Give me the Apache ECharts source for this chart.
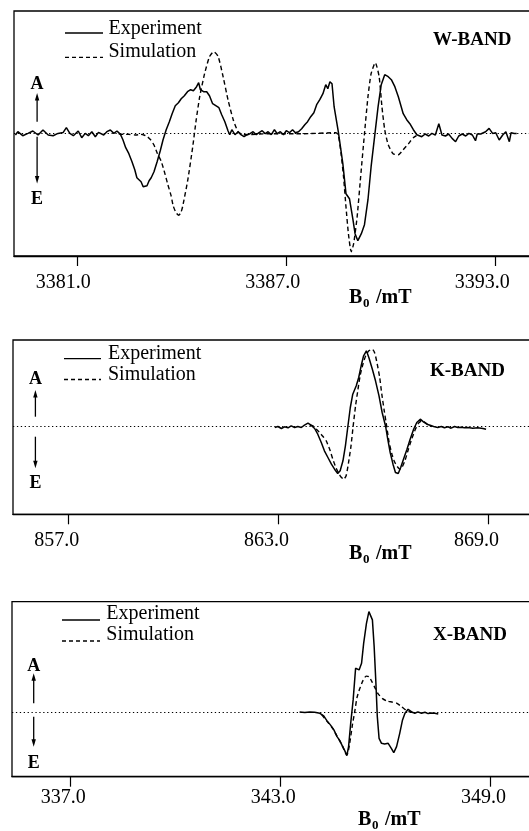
<!DOCTYPE html>
<html><head><meta charset="utf-8">
<script src="https://cdn.jsdelivr.net/npm/echarts@6/dist/echarts.min.js"></script>
<style>html,body{margin:0;padding:0;background:#fff}#c{width:529px;height:831px}</style>
</head><body><div id="c"></div>
<script>
// ---------- W-BAND (B0 in mT, amplitude in arbitrary units) ----------
const wTicks = [3381, 3387, 3393];
const wExpB = [3379.24,3379.31,3379.45,3379.60,3379.74,3379.89,3380.03,3380.18,3380.32,3380.46,3380.61,3380.70,3380.80,3380.90,3381.04,3381.14,3381.24,3381.33,3381.43,3381.53,3381.62,3381.77,3381.86,3381.96,3382.06,3382.15,3382.25,
3382.32,3382.40,3382.49,3382.58,3382.66,3382.72,3382.78,3382.84,3382.90,3382.95,3383.01,3383.07,3383.13,3383.21,3383.30,3383.39,3383.47,3383.56,3383.65,3383.73,3383.82,3383.91,3383.99,3384.08,3384.17,3384.26,3384.34,3384.43,3384.49,3384.54,3384.63,3384.72,3384.80,3384.89,3384.98,3385.07,3385.15,3385.24,3385.33,3385.38,3385.44,3385.53,3385.62,3385.70,3385.79,3385.88,3385.96,3386.05,3386.14,3386.22,3386.31,3386.40,3386.48,3386.57,3386.66,3386.74,3386.83,3386.92,3387.00,3387.09,3387.18,3387.26,3387.35,3387.44,3387.53,3387.61,3387.70,3387.79,3387.87,3387.96,3388.05,3388.13,3388.19,3388.25,3388.31,
3388.37,3388.49,3388.62,3388.71,3388.81,3388.91,3388.97,3389.05,3389.15,3389.24,3389.34,3389.43,3389.53,3389.63,3389.72,3389.82,3389.92,3390.01,3390.11,3390.21,3390.35,3390.45,3390.54,3390.64,3390.74,
3390.79,3390.88,3390.98,3391.08,3391.17,3391.27,3391.37,3391.46,3391.56,3391.65,3391.75,3391.85,3391.94,3392.04,3392.14,3392.23,3392.33,3392.42,3392.47,3392.57,3392.71,3392.81,3392.91,3393.00,3393.10,3393.20,3393.29,3393.39,3393.44,3393.53,3393.60];
const wExpA = [-1.3,2,-2,0.3,2.7,-1.3,3.7,-1.3,-2,0.3,1.3,6,0.3,-2,2.7,-4,0.3,-2,2,-3,1.3,-1.3,2,3.7,0.3,2.7,-0.7,
-6,-14,-20,-28,-36,-44,-46,-48,-53,-55,-52,-47,-44,-38,-28,-17,-6,4,12,20,28,31,35,38,42,44,43,47,51,44,42,42,38,30,28,26,19,12,3,-1,4,-1,2,-1,-3,-1,0,2,-1,1,3,0,2,-1,4,0,2,-1,3,1,4,1,2,5,9,12,17,21,29,34,40,49,45,52,50,
27,2,-30,-60,-65,-86,-100,-107,-100,-91,-66,-33,-3,27,49,59,57,54,47,37,20,14,10,4,-1,
0.3,-3,-0.3,-2.3,0.3,-1.3,10,-1.3,-2.3,-0.3,-4.7,-8,-2.3,-0.3,-2.3,0.3,-1.3,-7,-0.3,-0.3,2,5.3,0.3,1,-6.3,-1.3,2,-8,1,0.3,0.3];
const wSimB = [3382.20,3382.35,3382.49,3382.68,3382.83,3382.92,3383.02,3383.12,3383.21,3383.31,3383.41,3383.50,3383.60,3383.70,3383.76,3383.84,3383.92,3383.98,3384.03,3384.18,3384.32,3384.42,3384.52,3384.66,3384.80,3384.92,3385.05,3385.19,3385.33,3385.48,3385.62,3385.77,3386.5,3387.5,3388.42,3388.49,3388.57,3388.64,3388.71,3388.78,3388.86,3388.93,3389.03,3389.13,3389.24,3389.34,3389.43,3389.55,3389.66,3389.74,3389.82,3389.92,3390.06,3390.21,3390.35,3390.50,3390.64,3390.79];
const wSimA = [0,-0.7,-0.7,-1.3,-0.7,-1.3,-3,-6.3,-11.3,-20,-27,-37,-50,-62,-72,-79,-81.5,-79,-73,-46,-13,14,37,60,77,82,77,57,34,14,2,-1,0,0,1,-1.3,-20,-43,-73,-100,-118,-110,-83,-43,0,37,60,71,57,27,4,-11,-20,-21,-16,-10,-4,-0.6];

// ---------- K-BAND ----------
const kTicks = [857, 863, 869];
const kExpB = [862.89,862.98,863.08,863.17,863.27,863.36,863.46,863.55,863.65,863.74,863.84,863.93,864.03,864.12,864.22,864.31,864.41,864.51,864.60,864.69,864.76,864.84,864.91,864.98,865.05,865.12,865.22,865.29,865.36,865.43,865.51,865.58,865.68,865.77,865.87,865.96,866.06,866.12,866.19,866.27,866.34,866.42,866.49,866.57,866.67,866.76,866.86,866.95,867.05,867.14,867.24,867.33,867.43,867.55,867.65,867.74,867.84,867.93,868.03,868.12,868.22,868.31,868.41,868.55,868.69,868.84,868.93];
const kExpA = [-1,0,-2,-0.3,-1.3,0.7,-1,0,-1,1.3,3.3,1.3,-2,-7.7,-16,-24.3,-31,-37.7,-42.7,-47,-44.3,-34.3,-19.3,0,19,32.3,40.7,49,60.7,70.7,75.7,69,57.3,45.7,30.7,14,0,-12.7,-26,-37.7,-46,-47,-41,-32.7,-22.7,-12.7,-2.7,4,7.3,4.7,2.3,1.3,0,-1,0,-1.3,-0.3,-1.7,0,-1,-0.7,-1.3,-1,-1.7,-1.3,-2,-2.7];
const kSimB = [863.89,863.98,864.08,864.17,864.27,864.36,864.46,864.55,864.65,864.76,864.86,864.93,865.00,865.07,865.13,865.20,865.27,865.33,865.41,865.49,865.58,865.68,865.75,865.82,865.89,865.95,866.02,866.09,866.16,866.24,866.31,866.39,866.47,866.54,866.62,866.71,866.81,866.91,867.00,867.09,867.19,867.29,867.38];
const kSimA = [1.3,0.7,-2.7,-6,-10,-14.3,-22.7,-32.7,-42,-49.3,-52.7,-49.3,-36,-19.3,0,20.7,37.3,50.7,62.3,70.7,75.7,77.3,73.3,62.3,49,32.3,15.7,0,-16,-27.7,-35,-40,-42.7,-40,-33.3,-22.7,-12,-2.7,3.3,5.7,4,1.3,0];

// ---------- X-BAND ----------
const xTicks = [337, 343, 349];
const xExpB = [343.55,343.70,343.84,343.98,344.13,344.24,344.33,344.43,344.53,344.62,344.70,344.77,344.84,344.90,344.95,345.01,345.08,345.15,345.19,345.25,345.32,345.38,345.46,345.53,345.57,345.63,345.68,345.73,345.77,345.82,345.89,345.98,346.08,346.17,346.24,346.32,346.41,346.49,346.56,346.65,346.75,346.84,346.93,347.03,347.13,347.22,347.32,347.41,347.51];
const xExpA = [0.7,0,0.7,0.3,-0.7,-3.3,-8,-12.3,-17.3,-24,-28,-33.3,-38,-43,-34,-10.7,12.7,44.3,46,42.7,49.3,69.3,89.3,101,102,92.7,66,29.3,-4,-25.7,-30.7,-31.3,-30.7,-35.7,-40,-34,-20.7,-7.3,-0.7,3.3,0.7,-0.7,0.7,-0.7,0.3,-1,-0.3,-0.7,-1.3];
const xSimB = [344.18,344.33,344.50,344.62,344.77,344.87,344.91,344.98,345.06,345.13,345.19,345.27,345.36,345.45,345.53,345.60,345.70,345.79,345.92,346.05,346.20,346.32,346.46,346.58,346.70,346.81];
const xSimA = [-2,-8.5,-16,-23.5,-33,-41,-42,-31,-12,2,15,24,32,36.5,36,32,25,19,14,11.5,10.5,9.5,6,2.7,0.7,0];

const bandNames = ['W-BAND', 'K-BAND', 'X-BAND'];
const seriesNames = ['Experiment', 'Simulation'];

// ---------- layout ----------
const SERIF = '"Liberation Serif", "Times New Roman", serif';
const zip = (a, b) => a.map((v, i) => [v, b[i]]);

const panels = [
  {grid:{left:14, top:11, width:569, height:245}, xmin:3379.2, xmax:3395.5, ymin:-122.3, ymax:122.7, ticks:wTicks, margin:17, shift:27,
   exp:zip(wExpB,wExpA), sim:zip(wSimB,wSimA),
   leg:{x1:65, x2:103, tx:108.5, y1:33, y2:57.3, c1:28.4, c2:51.7}, band:{x:433, c:40.4},
   ae:{x:37.1, a:84, up:[93,121.7], dn:[136.7,183.5], e:199}, bname:{x:349, c:297.4}},
  {grid:{left:13, top:340, width:563, height:174.3}, xmin:855.41, xmax:871.5, ymin:-87.8, ymax:86.5, ticks:kTicks, margin:16, shift:24,
   exp:zip(kExpB,kExpA), sim:zip(kSimB,kSimA),
   leg:{x1:64, x2:101, tx:108, y1:358.6, y2:379.5, c1:353.4, c2:374.4}, band:{x:430, c:371},
   ae:{x:35.4, a:379, up:[390,416.7], dn:[436.7,468.3], e:483.4}, bname:{x:349, c:554}},
  {grid:{left:12, top:601.7, width:566, height:175}, xmin:335.34, xmax:351.5, ymin:-64.1, ymax:110.9, ticks:xTicks, margin:11.5, shift:14,
   exp:zip(xExpB,xExpA), sim:zip(xSimB,xSimA),
   leg:{x1:62, x2:100, tx:106.3, y1:620, y2:641, c1:614, c2:635}, band:{x:433, c:635.4},
   ae:{x:33.7, a:666, up:[673.3,703.3], dn:[716.7,746.7], e:763.4}, bname:{x:358, c:820}}
];

const grids = [], xAxes = [], yAxes = [], series = [], graphics = [];
const txt = (x, y, text, size, bold, align) => ({type:'text', x, y, silent:true,
  style:{text, fontFamily:SERIF, fontSize:size, fontWeight:bold?'bold':'normal', fill:'#000', align:align||'left', verticalAlign:'middle'}});
const ln = (x1, y1, x2, y2, dash) => ({type:'line', silent:true, shape:{x1,y1,x2,y2},
  style:{stroke:'#000', lineWidth:1.3, lineDash:dash||null}});

panels.forEach((p, i) => {
  grids.push(Object.assign({show:true, borderColor:'#000', borderWidth:1.3, backgroundColor:'transparent', containLabel:false, outerBoundsMode:'none'}, p.grid));
  xAxes.push({type:'value', gridIndex:i, min:p.xmin, max:p.xmax, splitLine:{show:false},
    axisLine:{show:true, onZero:false, lineStyle:{color:'#000', width:1.3}},
    axisTick:{show:true, inside:false, length:10, customValues:p.ticks, lineStyle:{color:'#000', width:1.2}},
    axisLabel:{show:true, customValues:p.ticks, formatter:v => Number(v).toFixed(1), fontFamily:SERIF, fontSize:20, color:'#000',
      margin:p.margin, padding:[0, p.shift, 0, 0]}});
  yAxes.push({type:'value', gridIndex:i, min:p.ymin, max:p.ymax, show:false, splitLine:{show:false}});
  series.push({name:seriesNames[0], type:'line', xAxisIndex:i, yAxisIndex:i, data:p.exp, symbol:'none', showSymbol:false,
    lineStyle:{color:'#000', width:1.5}, z:3,
    markLine:{silent:true, symbol:['none','none'], label:{show:false}, animation:false,
      lineStyle:{color:'#000', type:[1.3,2.6], width:1.1}, data:[{yAxis:0}]}});
  series.push({name:seriesNames[1], type:'line', xAxisIndex:i, yAxisIndex:i, data:p.sim, symbol:'none', showSymbol:false, smooth:0.2,
    lineStyle:{color:'#000', width:1.4, type:[4.5,3]}, z:2});
  // legend (line samples + text)
  graphics.push(ln(p.leg.x1, p.leg.y1, p.leg.x2, p.leg.y1));
  graphics.push(txt(p.leg.tx, p.leg.c1, seriesNames[0], 20, false));
  graphics.push(ln(p.leg.x1, p.leg.y2, p.leg.x2, p.leg.y2, [4,3]));
  graphics.push(txt(p.leg.tx, p.leg.c2, seriesNames[1], 20, false));
  // band label
  graphics.push(txt(p.band.x, p.band.c, bandNames[i], 19, true));
  // A / E with arrows
  const a = p.ae;
  graphics.push(txt(a.x, a.a, 'A', 18, true, 'center'));
  graphics.push(ln(a.x, a.up[0] + 5, a.x, a.up[1]));
  graphics.push({type:'polygon', silent:true, shape:{points:[[a.x, a.up[0]], [a.x - 2.2, a.up[0] + 7.5], [a.x + 2.2, a.up[0] + 7.5]]}, style:{fill:'#000'}});
  graphics.push(ln(a.x, a.dn[0], a.x, a.dn[1] - 5));
  graphics.push({type:'polygon', silent:true, shape:{points:[[a.x, a.dn[1]], [a.x - 2.2, a.dn[1] - 7.5], [a.x + 2.2, a.dn[1] - 7.5]]}, style:{fill:'#000'}});
  graphics.push(txt(a.x, a.e, 'E', 18, true, 'center'));
  // axis name B0 /mT
  const b = p.bname;
  graphics.push(txt(b.x, b.c, 'B', 20, true));
  graphics.push(txt(b.x + 14, b.c + 6, '0', 13, true));
  graphics.push(txt(b.x + 27, b.c, '/mT', 20, true));
});

const chart = echarts.init(document.getElementById('c'), null, {renderer:'canvas'});
chart.setOption({
  animation:false,
  backgroundColor:'#fff',
  grid:grids, xAxis:xAxes, yAxis:yAxes, series:series,
  graphic:{elements:graphics}
});
</script>
</body></html>
